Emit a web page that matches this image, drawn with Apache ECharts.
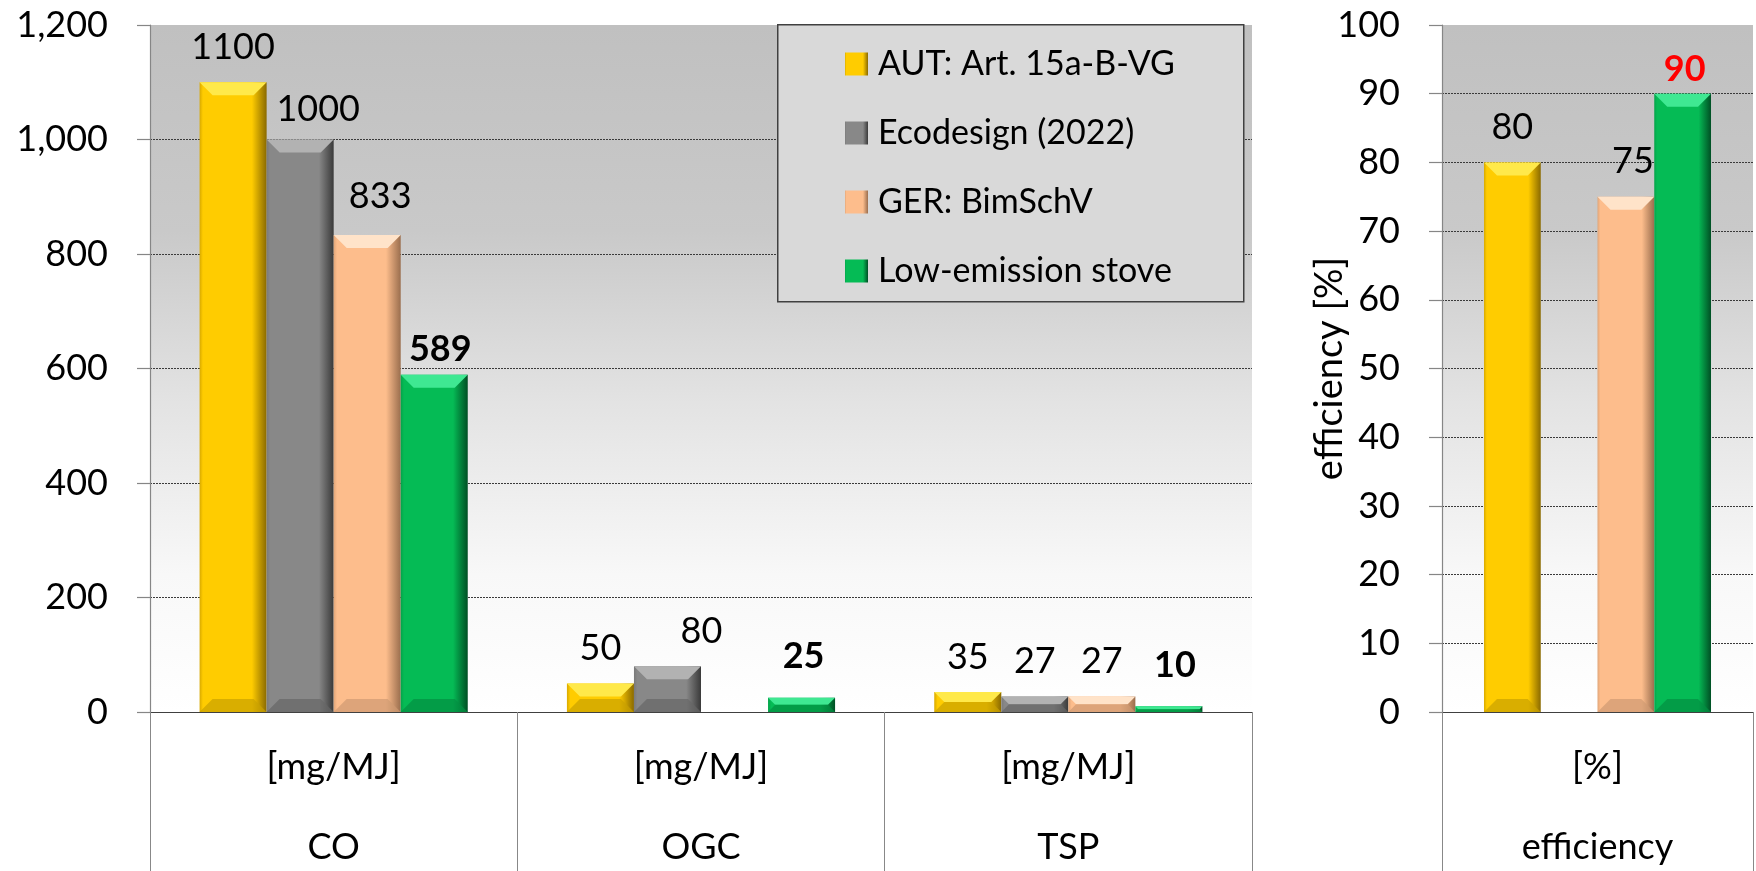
<!DOCTYPE html>
<html>
<head>
<meta charset="utf-8">
<script src="https://cdn.jsdelivr.net/npm/echarts@6/dist/echarts.min.js"></script>
<style>
html,body{margin:0;padding:0;background:#fff;}
#main{width:1756px;height:871px;}
</style>
</head>
<body>
<div id="main"></div>
<script>
// ---- data ----
const categories = ['CO', 'OGC', 'TSP'];
const units = ['[mg/MJ]', '[mg/MJ]', '[mg/MJ]'];
const effCategories = ['efficiency'];
const effUnits = ['[%]'];
const seriesNames = ['AUT: Art. 15a-B-VG', 'Ecodesign (2022)', 'GER: BimSchV', 'Low-emission stove'];
const autValues = [1100, 50, 35];
const ecoValues = [1000, 80, 27];
const gerValues = [833, null, 27];
const lowValues = [589, 25, 10];
const autEff = [80];
const ecoEff = [null];
const gerEff = [75];
const lowEff = [90];
const leftAxis = { min: 0, max: 1200, step: 200 };
const rightAxis = { min: 0, max: 100, step: 10 };

// ---- styles ----
const FONT = 'Lato';
const GAP = 0.27;
const palette = [
  { main: '#FFCC00', edge: '#d8a900', dark: '#8a6a00', top: '#ffe94a', bottom: '#c9a100' },
  { main: '#888888', edge: '#7a7a7a', dark: '#3a3a3a', top: '#b2b2b2', bottom: '#666666' },
  { main: '#FDBD8C', edge: '#e0a578', dark: '#9a6e4e', top: '#ffe3c9', bottom: '#cf9a72' },
  { main: '#05BB55', edge: '#04a34a', dark: '#004f24', top: '#3fe892', bottom: '#038f42' }
];
// label nudges [dx, dy] per series, per category (style only)
const leftLabelOffsets = [
  [[0, 0], [0, 0], [0, 0]],
  [[18, 5], [34, 0], [0, 0]],
  [[13, -4], [0, 0], [0, 0]],
  [[6, 10], [2, -6], [6, -6]]
];
const rightLabelOffsets = [[[0, 0]], [[0, 0]], [[7, 0]], [[2, 11]]];

const leftData = [autValues, ecoValues, gerValues, lowValues];
const rightData = [autEff, ecoEff, gerEff, lowEff];

function barGrad(p) {
  return new echarts.graphic.LinearGradient(0, 0, 1, 0, [
    { offset: 0, color: p.edge },
    { offset: 0.05, color: p.main },
    { offset: 0.78, color: p.main },
    { offset: 1, color: p.dark }
  ]);
}
function bgGrad() {
  return new echarts.graphic.LinearGradient(0, 0, 0, 1, [
    { offset: 0, color: '#c0c0c0' },
    { offset: 0.3, color: '#c9c9c9' },
    { offset: 0.55, color: '#e3e3e3' },
    { offset: 0.8, color: '#f8f8f8' },
    { offset: 1, color: '#ffffff' }
  ]);
}
function makeBevel(sIdx, p) {
  return function (params, api) {
    const v = api.value(1);
    if (v == null || isNaN(v)) return null;
    const c = api.value(0);
    const p0 = api.coord([c, 0]);
    const p1 = api.coord([c, v]);
    const catW = api.size([1, 0])[0];
    const bw = catW * (1 - GAP) / 4;
    const x0 = p0[0] - 2 * bw + sIdx * bw;
    const x1 = x0 + bw;
    const yb = p0[1], yt = p1[1];
    const h = yb - yt;
    const b = Math.min(13, h / 2, bw / 2);
    return {
      type: 'group',
      children: [
        { type: 'polygon', shape: { points: [[x0, yt], [x1, yt], [x1 - b, yt + b], [x0 + b, yt + b]] }, style: { fill: p.top } },
        { type: 'polygon', shape: { points: [[x0, yb], [x1, yb], [x1 - b, yb - b], [x0 + b, yb - b]] }, style: { fill: p.bottom, opacity: 0.7 } }
      ]
    };
  };
}

const series = [];
function addSeries(dataSets, offsets, gridIdx, isRight) {
  dataSets.forEach((vals, s) => {
    const p = palette[s];
    const bold = s === 3;
    series.push({
      type: 'bar',
      name: seriesNames[s],
      xAxisIndex: gridIdx,
      yAxisIndex: gridIdx,
      barGap: '0%',
      barCategoryGap: (GAP * 100) + '%',
      itemStyle: { color: barGrad(p) },
      label: {
        show: true,
        position: 'top',
        distance: 17,
        fontFamily: FONT,
        fontSize: 36,
        color: (isRight && bold) ? '#ff0000' : '#000',
        fontWeight: bold ? 'bold' : 'normal'
      },
      data: vals.map((v, i) => ({
        value: v == null ? '-' : v,
        label: { offset: offsets[s][i] }
      }))
    });
    series.push({
      type: 'custom',
      xAxisIndex: gridIdx,
      yAxisIndex: gridIdx,
      silent: true,
      z: 3,
      renderItem: makeBevel(s, p),
      encode: { x: 0, y: 1 },
      data: vals.map((v, i) => [i, v == null ? '-' : v])
    });
  });
}
addSeries(leftData, leftLabelOffsets, 0, false);
addSeries(rightData, rightLabelOffsets, 1, true);

function catAxis(gridIdx, cats, unitArr) {
  return {
    type: 'category',
    gridIndex: gridIdx,
    data: cats,
    axisLine: { show: true, lineStyle: { color: '#404040', width: 1.2 } },
    axisTick: { show: true, length: 160, lineStyle: { color: '#888888', width: 1 } },
    axisLabel: {
      fontFamily: FONT, fontSize: 36, color: '#000', lineHeight: 80, margin: 15,
      formatter: (v, i) => unitArr[i] + '\n' + v
    },
    splitLine: { show: false }
  };
}
function valAxis(gridIdx, ax, extra) {
  return Object.assign({
    type: 'value',
    gridIndex: gridIdx,
    min: ax.min, max: ax.max, interval: ax.step,
    axisLine: { show: true, lineStyle: { color: '#868686', width: 1.2 } },
    axisTick: { show: true, length: 13, lineStyle: { color: '#868686', width: 1.2 } },
    splitLine: { show: true, showMaxLine: false, lineStyle: { color: '#3a3a3a', width: 1, type: [2, 1] } },
    axisLabel: {
      fontFamily: FONT, fontSize: 36, color: '#000', margin: 42,
      formatter: v => v.toLocaleString('en-US')
    }
  }, extra || {});
}

const option = {
  animation: false,
  textStyle: { fontFamily: FONT },
  grid: [
    { left: 150, right: 504, top: 25, bottom: 159, show: true, backgroundColor: bgGrad(), borderWidth: 0, outerBoundsMode: 'none', containLabel: false },
    { left: 1442, right: 3, top: 25, bottom: 159, show: true, backgroundColor: bgGrad(), borderWidth: 0, outerBoundsMode: 'none', containLabel: false }
  ],
  xAxis: [catAxis(0, categories, units), catAxis(1, effCategories, effUnits)],
  yAxis: [
    valAxis(0, leftAxis),
    valAxis(1, rightAxis, {
      name: 'efficiency [%]', nameLocation: 'middle', nameGap: 93, nameMoveOverlap: false,
      nameTextStyle: { fontFamily: FONT, fontSize: 38, color: '#000' }
    })
  ],
  legend: {
    orient: 'vertical', left: 840, top: 41,
    itemWidth: 23, itemHeight: 23, itemGap: 33, icon: 'rect',
    textStyle: { fontFamily: FONT, fontSize: 34, lineHeight: 36, color: '#000', padding: [0, 0, 0, 5] },
    data: seriesNames
  },
  graphic: [{
    type: 'rect', left: 777, top: 24, z: 3,
    shape: { width: 466, height: 277 },
    style: { fill: '#d9d9d9', stroke: '#404040', lineWidth: 1.5 }
  }],
  series: series
};
const chart = echarts.init(document.getElementById('main'));
chart.setOption(option);
</script>
</body>
</html>
